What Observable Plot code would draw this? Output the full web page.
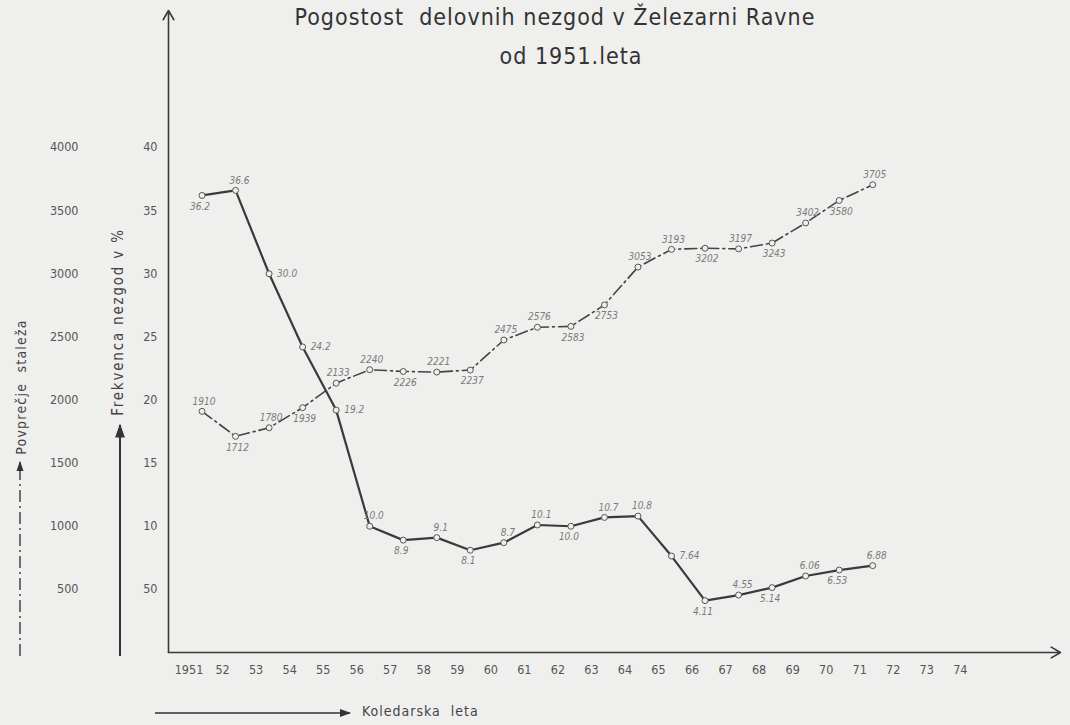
<!DOCTYPE html>
<html><head><meta charset="utf-8">
<script src="https://cdn.jsdelivr.net/npm/d3@7"></script>
<script src="https://cdn.jsdelivr.net/npm/@observablehq/plot@0.6"></script>
<style>
body{margin:0;background:#efefed;}
#wrap{position:relative;width:1070px;height:725px;font-family:"DejaVu Sans Condensed","DejaVu Sans",sans-serif;color:#444;overflow:hidden;}
.t{position:absolute;white-space:nowrap;}
#chart{position:absolute;left:0;top:0;}
#deco{position:absolute;left:0;top:0;pointer-events:none;}
</style></head><body>
<div id="wrap">
  <div id="chart"></div>
  <svg id="deco" width="1070" height="725">
    <defs>
      <marker id="ah" viewBox="0 0 10 10" refX="9" refY="5" markerWidth="7" markerHeight="7" orient="auto-start-reverse">
        <path d="M0,1.5 L10,5 L0,8.5 z" fill="#333"/>
      </marker>
    </defs>
    <line x1="20" y1="656" x2="20" y2="462" stroke="#444" stroke-width="1.5" stroke-dasharray="12,4,2,4" marker-end="url(#ah)"/>
    <line x1="120" y1="656" x2="120" y2="425" stroke="#333" stroke-width="2" marker-end="url(#ah)"/>
    <line x1="155" y1="713" x2="350" y2="713" stroke="#333" stroke-width="1.6" marker-end="url(#ah)"/>
  </svg>
  <div class="t" style="left:0;width:1110px;top:4px;text-align:center;font-size:23px;letter-spacing:1px;color:#333;">Pogostost&nbsp; delovnih nezgod v Železarni Ravne</div>
  <div class="t" style="left:0;width:1142px;top:43px;text-align:center;font-size:23px;letter-spacing:1px;color:#333;">od 1951.leta</div>
  <div class="t" style="left:21px;top:387px;font-size:14px;letter-spacing:1.2px;transform:translate(-50%,-50%) rotate(-90deg);">Povprečje&nbsp; staleža</div>
  <div class="t" style="left:118px;top:322px;font-size:15px;letter-spacing:1.8px;transform:translate(-50%,-50%) rotate(-90deg);">Frekvenca nezgod v %</div>
  <div class="t" style="left:362px;top:703px;font-size:14px;letter-spacing:1px;">Koledarska&nbsp; leta</div>
</div>
<script>
// Calendar years
const years = [1951,1952,1953,1954,1955,1956,1957,1958,1959,1960,1961,1962,1963,1964,1965,1966,1967,1968,1969,1970,1971];
// Frekvenca nezgod (%)
const frequency = [36.2,36.6,30.0,24.2,19.2,10.0,8.9,9.1,8.1,8.7,10.1,10.0,10.7,10.8,7.64,4.11,4.55,5.14,6.06,6.53,6.88];
// Povprečje staleža
const staff = [1910,1712,1780,1939,2133,2240,2226,2221,2237,2475,2576,2583,2753,3053,3193,3202,3197,3243,3402,3580,3705];
// Axis ticks
const xTicks = [1951,1952,1953,1954,1955,1956,1957,1958,1959,1960,1961,1962,1963,1964,1965,1966,1967,1968,1969,1970,1971,1972,1973,1974];
const staffTicks = [500,1000,1500,2000,2500,3000,3500,4000];
const freqTickLabels = ["50","10","15","20","25","30","35","40"];
// label placement (a = above, b = below, r = right)
const staffLabelSide = ["a","b","a","b","a","a","b","a","b","a","a","b","b","a","a","b","a","b","a","b","a"];
const freqLabelSide  = ["b","a","r","r","r","a","b","a","b","a","a","b","a","a","r","b","a","b","a","b","a"];

const freqFactor = staffTicks[staffTicks.length-1] / +freqTickLabels[freqTickLabels.length-1]; // 40 % <-> 4000

const fmtFreq = v => (Math.abs(Math.round(v*10) - v*10) < 1e-9) ? v.toFixed(1) : v.toFixed(2);

const rows = years.map((y,i) => ({
  year: y,
  staff: staff[i],
  freq: frequency[i],
  freqY: frequency[i]*freqFactor,
  sSide: staffLabelSide[i],
  fSide: freqLabelSide[i]
}));

const xDomain = [1950, 1976.6];
const yDomain = [0, 5085];
const ink = "#3a3a3a";
const bg = "#efefed";
const lbl = {fontSize: 10, fontStyle: "italic", fill: "#7a7a7a"};

const chart = Plot.plot({
  width: 1070,
  height: 725,
  marginTop: 10,
  marginRight: 10,
  marginBottom: 73,
  marginLeft: 168,
  style: {background: "transparent", fontFamily: "'DejaVu Sans Condensed','DejaVu Sans',sans-serif", color: "#555"},
  x: {domain: xDomain, label: null},
  y: {domain: yDomain, label: null},
  marks: [
    Plot.arrow([{}], {x1: () => xDomain[0], x2: () => xDomain[1], y1: () => 0, y2: () => 0, stroke: ink, strokeWidth: 1.6, headLength: 10, bend: 0}),
    Plot.arrow([{}], {x1: () => xDomain[0], x2: () => xDomain[0], y1: () => 0, y2: () => yDomain[1], stroke: ink, strokeWidth: 1.6, headLength: 10, bend: 0}),
    Plot.axisX({ticks: xTicks, tickSize: 0, tickPadding: 13, dx: -13, fontSize: 12.5, fill: "#555", label: null,
      tickFormat: d => d === xTicks[0] ? String(d) : String(d).slice(2)}),
    Plot.axisY({ticks: staffTicks, tickSize: 0, tickPadding: 90, fontSize: 12.5, fill: "#555", label: null, tickFormat: d => String(d)}),
    Plot.axisY({ticks: staffTicks, tickSize: 0, tickPadding: 11, fontSize: 12.5, fill: "#555", label: null,
      tickFormat: d => freqTickLabels[staffTicks.indexOf(d)]}),
    Plot.line(rows, {x: "year", y: "staff", stroke: "#444", strokeWidth: 1.6, strokeDasharray: "12,4,2,4"}),
    Plot.line(rows, {x: "year", y: "freqY", stroke: ink, strokeWidth: 2.2}),
    Plot.dot(rows, {x: "year", y: "staff", r: 3, fill: bg, stroke: "#555", strokeWidth: 1}),
    Plot.dot(rows, {x: "year", y: "freqY", r: 3, fill: bg, stroke: "#555", strokeWidth: 1}),
    Plot.text(rows.filter(d => d.sSide === "a"), {x: "year", y: "staff", text: d => String(d.staff), dy: -10, dx: 2, ...lbl}),
    Plot.text(rows.filter(d => d.sSide === "b"), {x: "year", y: "staff", text: d => String(d.staff), dy: 11, dx: 2, ...lbl}),
    Plot.text(rows.filter(d => d.fSide === "a"), {x: "year", y: "freqY", text: d => fmtFreq(d.freq), dy: -10, dx: 4, ...lbl}),
    Plot.text(rows.filter(d => d.fSide === "b"), {x: "year", y: "freqY", text: d => fmtFreq(d.freq), dy: 11, dx: -2, ...lbl}),
    Plot.text(rows.filter(d => d.fSide === "r"), {x: "year", y: "freqY", text: d => fmtFreq(d.freq), dx: 8, textAnchor: "start", ...lbl})
  ]
});
document.getElementById("chart").appendChild(chart);
</script>
</body></html>
